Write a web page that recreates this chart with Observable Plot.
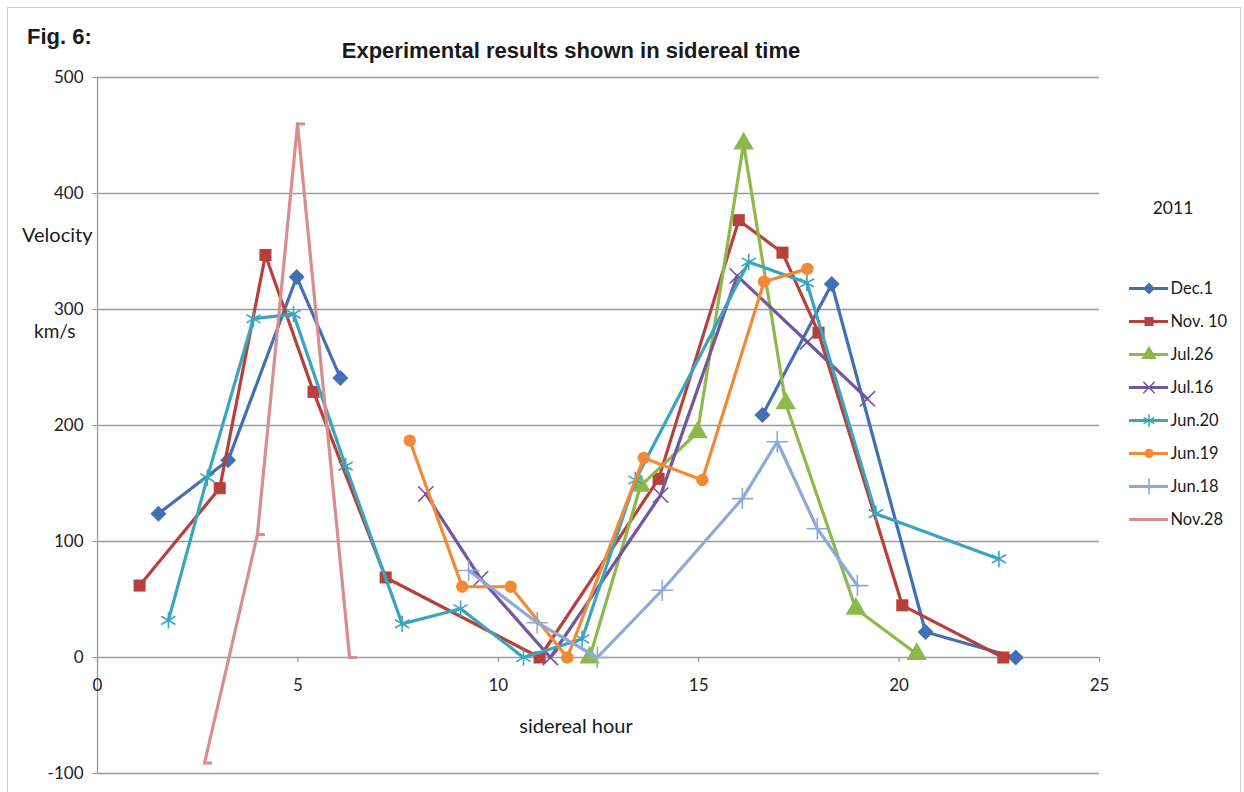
<!DOCTYPE html>
<html><head><meta charset="utf-8">
<script src="https://cdn.jsdelivr.net/npm/d3@7"></script>
<script src="https://cdn.jsdelivr.net/npm/@observablehq/plot@0.6"></script>
<style>
body{margin:0;background:#fff;}
#wrap{position:relative;width:1244px;height:792px;overflow:hidden;font-family:Lato,"Liberation Sans",sans-serif;}
#wrap svg{position:absolute;left:0;top:0;}
#frame{position:absolute;left:7px;top:7px;width:1234px;height:790px;border:1px solid #cfcfcf;box-sizing:border-box;}
.lbl{position:absolute;white-space:nowrap;color:#1a1a1a;line-height:1;}
</style></head><body><div id="wrap"><div id="frame"></div></div>
<script>
// ---- data ----
const seriesNames = ["Dec.1", "Nov. 10", "Jul.26", "Jul.16", "Jun.20", "Jun.19", "Jun.18", "Nov.28"];
const seriesColors = ["#4270b3", "#b8403c", "#8fb84c", "#7356a0", "#3aa5bd", "#f28a35", "#8eaad8", "#d68f8e"];
const seriesSymbols = ["diamond2", "square", "triangle", "times", "asterisk", "circle", "plus", "dash"];

const dec1X  = [1.52, 3.26, 4.97, 6.06, null, 16.59, 18.32, 20.66, 22.91];
const dec1Y  = [124, 170, 328, 241, null, 209, 322, 22, 0];
const nov10X = [1.05, 3.05, 4.19, 5.39, 7.19, 11.03, 14.0, 16.0, 17.09, 17.99, 20.08, 22.6];
const nov10Y = [62, 146, 347, 229, 69, 0, 154, 377, 349, 280, 45, 0];
const jul26X = [12.28, 13.55, 14.97, 16.12, 17.17, 18.92, 20.44];
const jul26Y = [0, 148, 194, 443, 219, 42, 3];
const jul16X = [8.19, 9.56, 11.3, 14.05, 15.96, 17.71, 19.21];
const jul16Y = [141, 68, 0, 140, 329, 272, 223];
const jun20X = [1.77, 2.74, 3.89, 4.89, 6.19, 7.6, 9.06, 10.63, 12.09, 13.42, 16.25, 17.7, 19.42, 22.49];
const jun20Y = [32, 155, 292, 296, 165, 29, 42, 0, 16, 153, 341, 323, 124, 85];
const jun19X = [7.79, 9.1, 10.31, 11.72, 13.63, 15.09, 16.63, 17.71];
const jun19Y = [187, 61, 61, 0, 172, 153, 324, 335];
const jun18X = [9.26, 10.97, 12.47, 14.09, 16.09, 16.96, 17.96, 18.96];
const jun18Y = [75, 30, 0, 58, 137, 186, 111, 62];
const nov28X = [2.67, 3.99, 4.99, 6.29];
const nov28Y = [-91, 106, 460, 0];

const xTicks = [0, 5, 10, 15, 20, 25];
const yTicks = [-100, 0, 100, 200, 300, 400, 500];

const allX = [dec1X, nov10X, jul26X, jul16X, jun20X, jun19X, jun18X, nov28X];
const allY = [dec1Y, nov10Y, jul26Y, jul16Y, jun20Y, jun19Y, jun18Y, nov28Y];

// ---- build table ----
const seriesRows = seriesNames.map((name, i) =>
  allX[i].map((x, j) => ({series: name, x, y: allY[i][j]})));

const dashSymbol = {draw(ctx, size) { const w = 4.5, h = 1.5; ctx.moveTo(-w + 3, -h); ctx.lineTo(w + 3, -h); ctx.lineTo(w + 3, h); ctx.lineTo(-w + 3, h); ctx.closePath(); }};
const filled = new Set(["diamond2", "square", "triangle", "circle", "dash"]);
const symR = {diamond2: 7.2, square: 6.8, triangle: 7.6, times: 7, asterisk: 7.8, circle: 6.2, plus: 7, dash: 5};

function dotOpts(i, extra, scale = 1) {
  const s = seriesSymbols[i];
  const sym = s === "dash" ? dashSymbol : s;
  const o = {symbol: sym, r: symR[s] * scale, ...extra};
  if (filled.has(s)) { o.fill = seriesColors[i]; o.stroke = "none"; }
  else { o.fill = "none"; o.stroke = seriesColors[i]; o.strokeWidth = 1.6; }
  return o;
}

const W = 1244, H = 792;
const FONT = "Lato, 'Liberation Sans', sans-serif";
const marks = [
  Plot.ruleY(yTicks, {stroke: "#9a9a9a", strokeWidth: 1.3}),
  Plot.ruleX([0], {stroke: "#9a9a9a", strokeWidth: 1.3}),
  Plot.axisY(yTicks, {tickSize: 5, tickPadding: 9, fontSize: 17, stroke: "#9a9a9a", color: "#222", label: null, tickFormat: d => String(d)}),
  Plot.ruleX(xTicks, {x: d => d, y1: 0, y2: 0, insetBottom: -5, stroke: "#9a9a9a", strokeWidth: 1.3}),
  Plot.text(xTicks, {x: d => d, y: 0, dy: 28, text: d => String(d), fontSize: 17, fill: "#222"})
];
seriesRows.forEach((rows, i) => {
  marks.push(Plot.line(rows, {x: "x", y: "y", stroke: seriesColors[i], strokeWidth: 3.2, strokeLinejoin: "round"}));
  marks.push(Plot.dot(rows.filter(d => d.y != null), dotOpts(i, {x: "x", y: "y"})));
});

const chart = Plot.plot({
  width: W, height: H,
  marginLeft: 97, marginRight: W - 1099, marginTop: 77, marginBottom: H - 773,
  x: {domain: [0, 25], axis: null},
  y: {domain: [-100, 500], axis: null},
  style: {fontFamily: FONT, background: "transparent"},
  marks
});

// ---- legend (separate overlay plot) ----
const legendRows = seriesNames.map((name, i) => ({name, i}));
const legendMarks = [];
legendRows.forEach(d => {
  legendMarks.push(Plot.ruleY([d], {y: "name", x1: 0, x2: 1, stroke: seriesColors[d.i], strokeWidth: 3.2}));
  legendMarks.push(Plot.dot([d], dotOpts(d.i, {y: "name", x: 0.5}, 0.75)));
});
legendMarks.push(Plot.text(legendRows, {y: "name", x: 1, dx: 2, text: "name", textAnchor: "start", fontSize: 16.5, fill: "#1a1a1a"}));
const legend = Plot.plot({
  width: W, height: H, margin: 0,
  x: {domain: [0, 1], range: [1129, 1168], axis: null},
  y: {type: "point", domain: seriesNames, range: [285, 521], padding: 0, axis: null},
  style: {fontFamily: FONT, background: "transparent"},
  marks: legendMarks
});

const wrap = document.getElementById("wrap");
wrap.appendChild(chart);
wrap.appendChild(legend);

function label(text, left, top, css) {
  const el = document.createElement("div");
  el.className = "lbl"; el.textContent = text;
  el.style.left = left + "px"; el.style.top = top + "px";
  Object.assign(el.style, css || {});
  wrap.appendChild(el);
  return el;
}
label("Fig. 6:", 27, 26, {fontFamily: "'Liberation Sans', Arial, sans-serif", fontWeight: "bold", fontSize: "22px"});
label("Experimental results shown in sidereal time", 571, 40, {fontFamily: "'Liberation Sans', Arial, sans-serif", fontWeight: "bold", fontSize: "22px", transform: "translateX(-50%)"});
label("Velocity", 22, 224, {fontSize: "20px"});
label("km/s", 34, 321, {fontSize: "19px"});
label("sidereal hour", 576, 715, {fontSize: "20px", transform: "translateX(-50%)"});
label("2011", 1173, 199, {fontSize: "17.5px", transform: "translateX(-50%)"});
</script></body></html>
